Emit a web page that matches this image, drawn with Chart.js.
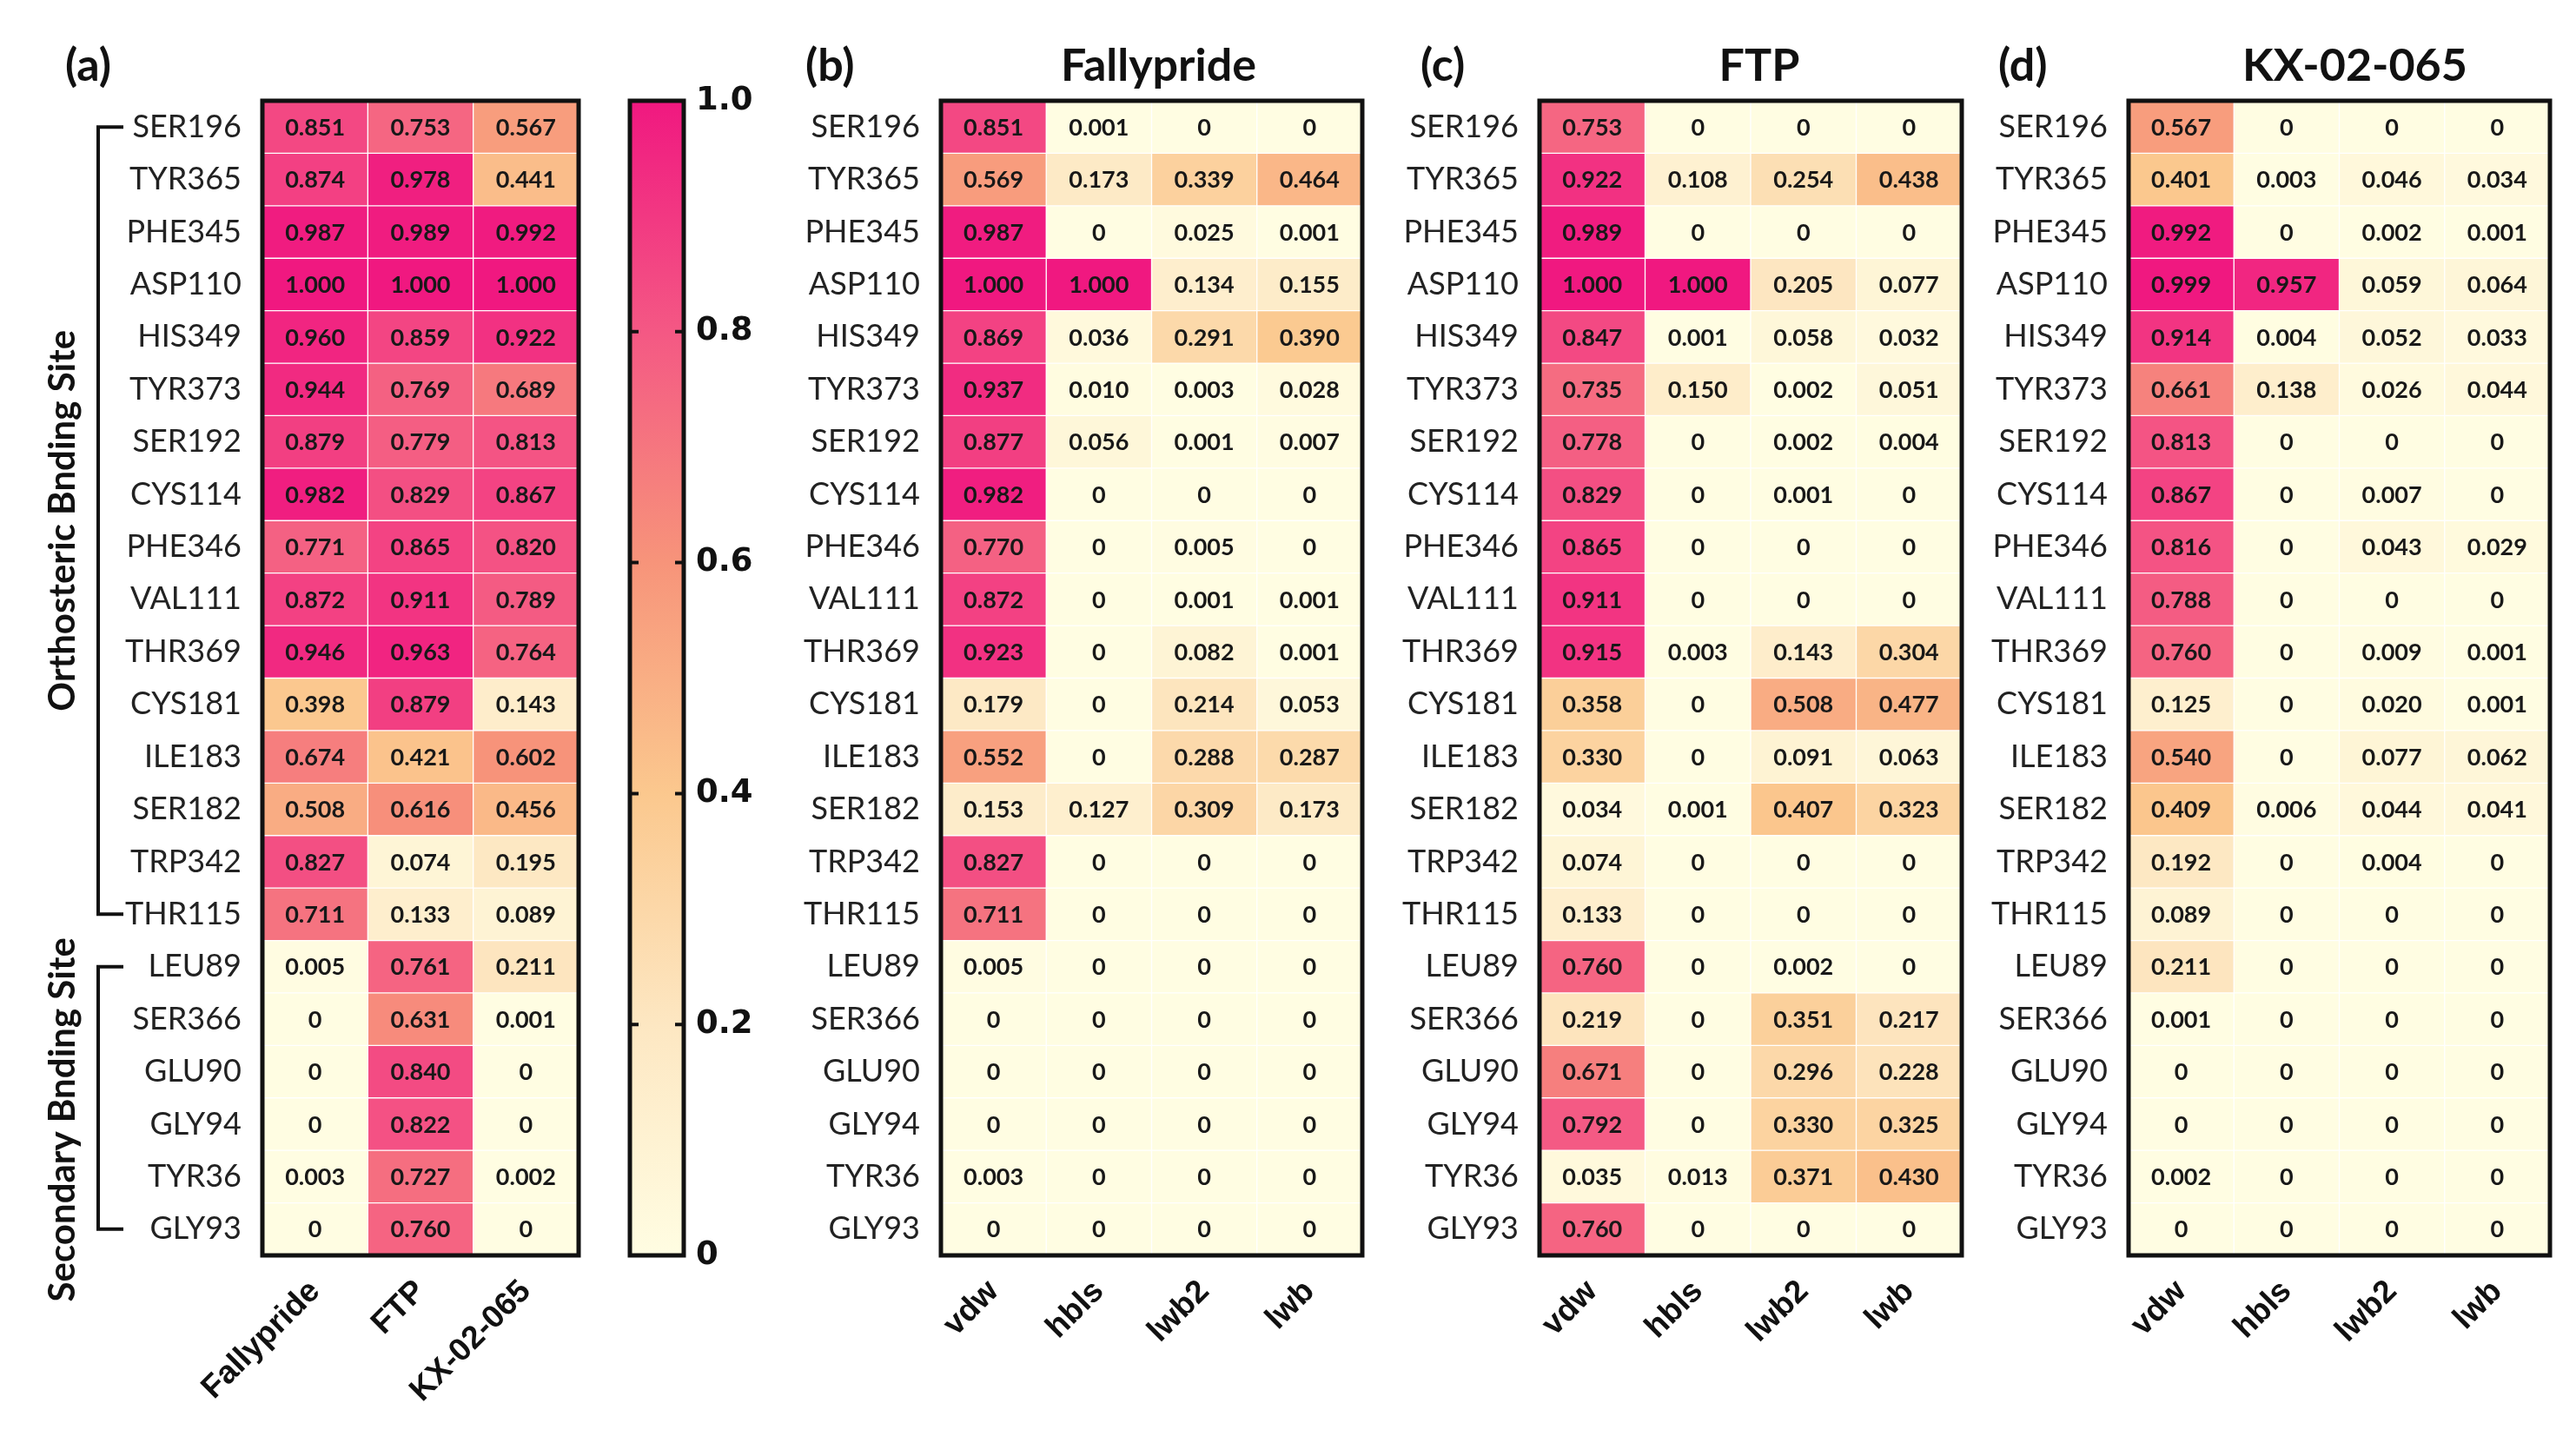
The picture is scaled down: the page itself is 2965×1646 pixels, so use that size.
<!DOCTYPE html>
<html lang="en">
<head>
<meta charset="UTF-8">
<title>Heatmaps</title>
<script src="https://cdn.jsdelivr.net/npm/chart.js"></script>
<style>
    body { margin: 0; background: #fff; }
    #wrap { position: relative; width: 2965px; height: 1646px; }
    .panel { position: absolute; top: 0; height: 1646px; }
</style>
</head>
<body>
<div id="wrap">
    <div class="panel" style="left:0;width:700px"><canvas id="chartA"></canvas></div>
    <div class="panel" style="left:700px;width:220px"><canvas id="chartBar"></canvas></div>
    <div class="panel" style="left:920px;width:680px"><canvas id="chartB"></canvas></div>
    <div class="panel" style="left:1600px;width:680px"><canvas id="chartC"></canvas></div>
    <div class="panel" style="left:2280px;width:685px"><canvas id="chartD"></canvas></div>
</div>

<script>
// residues (rows, top to bottom)
const residues = ['SER196', 'TYR365', 'PHE345', 'ASP110', 'HIS349', 'TYR373', 'SER192', 'CYS114', 'PHE346', 'VAL111', 'THR369',
    'CYS181', 'ILE183', 'SER182', 'TRP342', 'THR115', 'LEU89', 'SER366', 'GLU90', 'GLY94', 'TYR36', 'GLY93'];
const ligands = ['Fallypride', 'FTP', 'KX-02-065'];
const terms = ['vdw', 'hbls', 'lwb2', 'lwb'];
const colorbarTicks = [0, 0.2, 0.4, 0.6, 0.8, 1.0];

// (a) total, per ligand
const totFallypride = [0.851, 0.874, 0.987, 1.000, 0.960, 0.944, 0.879, 0.982, 0.771, 0.872, 0.946, 0.398, 0.674, 0.508, 0.827, 0.711, 0.005, 0, 0, 0, 0.003, 0];
const totFTP = [0.753, 0.978, 0.989, 1.000, 0.859, 0.769, 0.779, 0.829, 0.865, 0.911, 0.963, 0.879, 0.421, 0.616, 0.074, 0.133, 0.761, 0.631, 0.840, 0.822, 0.727, 0.760];
const totKX = [0.567, 0.441, 0.992, 1.000, 0.922, 0.689, 0.813, 0.867, 0.820, 0.789, 0.764, 0.143, 0.602, 0.456, 0.195, 0.089, 0.211, 0.001, 0, 0, 0.002, 0];

// (b) Fallypride
const fallyVdw = [0.851, 0.569, 0.987, 1.000, 0.869, 0.937, 0.877, 0.982, 0.770, 0.872, 0.923, 0.179, 0.552, 0.153, 0.827, 0.711, 0.005, 0, 0, 0, 0.003, 0];
const fallyHbls = [0.001, 0.173, 0, 1.000, 0.036, 0.010, 0.056, 0, 0, 0, 0, 0, 0, 0.127, 0, 0, 0, 0, 0, 0, 0, 0];
const fallyLwb2 = [0, 0.339, 0.025, 0.134, 0.291, 0.003, 0.001, 0, 0.005, 0.001, 0.082, 0.214, 0.288, 0.309, 0, 0, 0, 0, 0, 0, 0, 0];
const fallyLwb = [0, 0.464, 0.001, 0.155, 0.390, 0.028, 0.007, 0, 0, 0.001, 0.001, 0.053, 0.287, 0.173, 0, 0, 0, 0, 0, 0, 0, 0];

// (c) FTP
const ftpVdw = [0.753, 0.922, 0.989, 1.000, 0.847, 0.735, 0.778, 0.829, 0.865, 0.911, 0.915, 0.358, 0.330, 0.034, 0.074, 0.133, 0.760, 0.219, 0.671, 0.792, 0.035, 0.760];
const ftpHbls = [0, 0.108, 0, 1.000, 0.001, 0.150, 0, 0, 0, 0, 0.003, 0, 0, 0.001, 0, 0, 0, 0, 0, 0, 0.013, 0];
const ftpLwb2 = [0, 0.254, 0, 0.205, 0.058, 0.002, 0.002, 0.001, 0, 0, 0.143, 0.508, 0.091, 0.407, 0, 0, 0.002, 0.351, 0.296, 0.330, 0.371, 0];
const ftpLwb = [0, 0.438, 0, 0.077, 0.032, 0.051, 0.004, 0, 0, 0, 0.304, 0.477, 0.063, 0.323, 0, 0, 0, 0.217, 0.228, 0.325, 0.430, 0];

// (d) KX-02-065
const kxVdw = [0.567, 0.401, 0.992, 0.999, 0.914, 0.661, 0.813, 0.867, 0.816, 0.788, 0.760, 0.125, 0.540, 0.409, 0.192, 0.089, 0.211, 0.001, 0, 0, 0.002, 0];
const kxHbls = [0, 0.003, 0, 0.957, 0.004, 0.138, 0, 0, 0, 0, 0, 0, 0, 0.006, 0, 0, 0, 0, 0, 0, 0, 0];
const kxLwb2 = [0, 0.046, 0.002, 0.059, 0.052, 0.026, 0, 0.007, 0.043, 0, 0.009, 0.020, 0.077, 0.044, 0.004, 0, 0, 0, 0, 0, 0, 0];
const kxLwb = [0, 0.034, 0.001, 0.064, 0.033, 0.044, 0, 0, 0.029, 0, 0.001, 0.001, 0.062, 0.041, 0, 0, 0, 0, 0, 0, 0, 0];

// colour map stops (cream -> peach -> pink)
const stops = [
    [0, [255, 253, 226]],
    [0.2, [253, 231, 194]],
    [0.4, [251, 200, 142]],
    [0.6, [247, 148, 122]],
    [0.8, [244, 88, 132]],
    [1.0, [240, 24, 128]]
];

function colorFor(v) {
    for (let i = 1; i < stops.length; i++) {
        if (v <= stops[i][0]) {
            const [v0, c0] = stops[i - 1], [v1, c1] = stops[i];
            const t = (v - v0) / (v1 - v0);
            const c = c0.map((x, k) => Math.round(x + (c1[k] - x) * t));
            return `rgb(${c[0]},${c[1]},${c[2]})`;
        }
    }
    const c = stops[stops.length - 1][1];
    return `rgb(${c[0]},${c[1]},${c[2]})`;
}

Chart.defaults.font.family = 'Lato, "Open Sans", sans-serif';
Chart.defaults.color = '#1a1a1a';

const cellText = {
    id: 'cellText',
    afterDatasetsDraw(chart) {
        const ctx = chart.ctx;
        ctx.save();
        ctx.font = 'bold 27px Lato';
        ctx.fillStyle = '#181818';
        ctx.textAlign = 'center';
        ctx.textBaseline = 'middle';
        chart.data.datasets.forEach((ds, i) => {
            chart.getDatasetMeta(i).data.forEach((bar, j) => {
                const v = ds.values[j];
                const p = bar.getCenterPoint();
                ctx.fillText(v === 0 ? '0' : v.toFixed(3), p.x, p.y + 1);
            });
        });
        ctx.restore();
    }
};

const frame = {
    id: 'frame',
    afterDraw(chart) {
        const a = chart.chartArea, ctx = chart.ctx;
        ctx.save();
        ctx.strokeStyle = '#111';
        ctx.lineWidth = 5;
        ctx.strokeRect(a.left, a.top, a.right - a.left, a.bottom - a.top);
        ctx.restore();
    }
};

function decoPlugin(tag, tagX, title, titleShift) {
    return {
        id: 'deco',
        afterDraw(chart) {
            const a = chart.chartArea, ctx = chart.ctx;
            ctx.save();
            ctx.fillStyle = '#111';
            ctx.textBaseline = 'middle';
            ctx.font = 'bold 52px Lato';
            ctx.textAlign = 'left';
            ctx.fillText(tag, tagX, 76);
            if (title) {
                ctx.textAlign = 'center';
                ctx.fillText(title, (a.left + a.right) / 2 + titleShift, 76);
            }
            ctx.restore();
        }
    };
}

// brackets + group labels for panel (a)
const groups = {
    id: 'groups',
    afterDraw(chart) {
        const y = chart.scales.y, ctx = chart.ctx;
        const bx = 113, tx = 142;
        const sets = [
            ['Orthosteric Bnding Site', 0, 15, 0],
            ['Secondary Bnding Site', 16, 21, 25]
        ];
        ctx.save();
        ctx.strokeStyle = '#111';
        ctx.lineWidth = 4;
        ctx.fillStyle = '#111';
        ctx.font = 'bold 42px Lato';
        ctx.textAlign = 'center';
        ctx.textBaseline = 'middle';
        sets.forEach(([label, r0, r1, shift]) => {
            const y0 = y.getPixelForValue(r0 + 0.5), y1 = y.getPixelForValue(r1 + 0.5);
            ctx.beginPath();
            ctx.moveTo(tx, y0); ctx.lineTo(bx, y0); ctx.lineTo(bx, y1); ctx.lineTo(tx, y1);
            ctx.stroke();
            ctx.save();
            ctx.translate(72, (y0 + y1) / 2 + shift);
            ctx.rotate(-Math.PI / 2);
            ctx.fillText(label, 0, 0);
            ctx.restore();
        });
        ctx.restore();
    }
};

function makeHeatmap(id, columns, series, leftW, padRight, extra) {
    const datasets = residues.map((name, i) => {
        const values = series.map(s => s[i]);
        return {
            label: name,
            data: columns.map(() => 1),
            values: values,
            backgroundColor: values.map(colorFor),
            borderColor: 'rgba(255,255,255,0.75)',
            borderWidth: 1,
            borderSkipped: false,
            barPercentage: 1,
            categoryPercentage: 1
        };
    });
    return new Chart(document.getElementById(id), {
        type: 'bar',
        data: { labels: columns, datasets: datasets },
        options: {
            responsive: true,
            maintainAspectRatio: false,
            animation: false,
            layout: { padding: { top: 116, right: padRight, bottom: 0, left: 0 } },
            plugins: { legend: { display: false }, tooltip: { enabled: false } },
            scales: {
                x: {
                    stacked: true,
                    grid: { display: false },
                    border: { display: false },
                    ticks: {
                        font: { family: '"Liberation Sans", Arial, sans-serif', size: 37, weight: 'bold' },
                        color: '#111',
                        minRotation: 45,
                        maxRotation: 45,
                        padding: 12
                    },
                    afterFit(scale) { scale.height = 201; }
                },
                y: {
                    stacked: true,
                    reverse: true,
                    min: 0,
                    max: residues.length,
                    grid: { display: false },
                    border: { display: false },
                    ticks: {
                        autoSkip: false,
                        font: { size: 36 },
                        color: '#222',
                        padding: 16,
                        callback: (v) => residues[Math.floor(v)]
                    },
                    afterBuildTicks(scale) {
                        scale.ticks = residues.map((r, i) => ({ value: i + 0.5 }));
                    },
                    afterFit(scale) { scale.width = leftW; }
                }
            }
        },
        plugins: [cellText, frame].concat(extra)
    });
}

makeHeatmap('chartA', ligands, [totFallypride, totFTP, totKX], 302, 34, [decoPlugin('(a)', 75, '', 0), groups]);
makeHeatmap('chartB', terms, [fallyVdw, fallyHbls, fallyLwb2, fallyLwb], 163, 32, [decoPlugin('(b)', 7, 'Fallypride', 8)]);
makeHeatmap('chartC', terms, [ftpVdw, ftpHbls, ftpLwb2, ftpLwb], 172, 22, [decoPlugin('(c)', 35, 'FTP', 10)]);
makeHeatmap('chartD', terms, [kxVdw, kxHbls, kxLwb2, kxLwb], 170, 30, [decoPlugin('(d)', 20, 'KX-02-065', 18)]);

// colour bar
const barTicks = {
    id: 'barTicks',
    afterDraw(chart) {
        const y = chart.scales.y, a = chart.chartArea, ctx = chart.ctx;
        ctx.save();
        ctx.strokeStyle = '#111';
        ctx.lineWidth = 4;
        colorbarTicks.slice(1, -1).forEach(v => {
            const py = y.getPixelForValue(v);
            ctx.beginPath();
            ctx.moveTo(a.left, py); ctx.lineTo(a.left + 10, py);
            ctx.moveTo(a.right - 10, py); ctx.lineTo(a.right, py);
            ctx.stroke();
        });
        ctx.restore();
    }
};

new Chart(document.getElementById('chartBar'), {
    type: 'bar',
    data: {
        labels: [''],
        datasets: [{
            data: [[colorbarTicks[0], colorbarTicks[colorbarTicks.length - 1]]],
            barPercentage: 1,
            categoryPercentage: 1,
            backgroundColor(c) {
                const area = c.chart.chartArea;
                if (!area) return '#fff';
                const g = c.chart.ctx.createLinearGradient(0, area.bottom, 0, area.top);
                stops.forEach(([v, col]) => g.addColorStop(v, `rgb(${col[0]},${col[1]},${col[2]})`));
                return g;
            }
        }]
    },
    options: {
        responsive: true,
        maintainAspectRatio: false,
        animation: false,
        layout: { padding: { top: 116, right: 0, bottom: 201, left: 25 } },
        plugins: { legend: { display: false }, tooltip: { enabled: false } },
        scales: {
            x: { display: false },
            y: {
                position: 'right',
                min: 0,
                max: 1,
                grid: { display: false },
                border: { display: false },
                ticks: {
                    font: { family: '"DejaVu Sans"', size: 37, weight: 'bold' },
                    color: '#111',
                    padding: 6,
                    callback: (v) => v === 0 ? '0' : v.toFixed(1)
                },
                afterBuildTicks(scale) {
                    scale.ticks = colorbarTicks.map(v => ({ value: v }));
                },
                afterFit(scale) { scale.width = 133; }
            }
        }
    },
    plugins: [frame, barTicks]
});
</script>
</body>
</html>
